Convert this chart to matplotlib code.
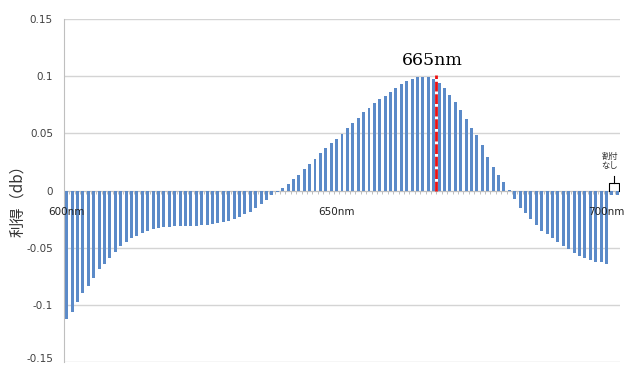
import matplotlib
matplotlib.use("Agg")
import matplotlib.pyplot as plt
import matplotlib.transforms as mtransforms

# gain per wavelength, 1 nm steps from 600 to 702 nm
wavelength = list(range(600, 703))
gain = [
    -0.113, -0.106, -0.098, -0.090, -0.084, -0.077, -0.069, -0.064, -0.059, -0.054,
    -0.049, -0.045, -0.042, -0.040, -0.0375, -0.0355, -0.034, -0.033, -0.032, -0.0317,
    -0.031, -0.031, -0.0308, -0.031, -0.0308, -0.0305, -0.030, -0.0296, -0.0287, -0.0279,
    -0.0264, -0.025, -0.023, -0.021, -0.0185, -0.0156, -0.012, -0.008, -0.004, -0.001,
    0.002, 0.0057, 0.0098, 0.014, 0.0186, 0.023, 0.0276, 0.033, 0.037, 0.042,
    0.0448, 0.0495, 0.055, 0.0594, 0.0638, 0.0685, 0.0725, 0.077, 0.080, 0.083,
    0.086, 0.090, 0.093, 0.0956, 0.0974, 0.0997, 0.0997, 0.0997, 0.098, 0.094,
    0.0895, 0.084, 0.078, 0.071, 0.063, 0.0545, 0.0486, 0.040, 0.0296, 0.021,
    0.0136, 0.0077, 0.0005, -0.0075, -0.015, -0.020, -0.025, -0.030, -0.0355, -0.038,
    -0.042, -0.045, -0.0486, -0.0515, -0.0544, -0.057, -0.059, -0.061, -0.0625, -0.063,
    -0.064, -0.004, -0.004,
]
x_labels = {600: "600nm", 650: "650nm", 700: "700nm"}
y_ticks = [-0.15, -0.1, -0.05, 0, 0.05, 0.1, 0.15]
y_ticklabels = ["-0.15", "-0.1", "-0.05", "0", "0.05", "0.1", "0.15"]
marker_x = 668.5
marker_text = "665nm"

fig = plt.figure(figsize=(6.25, 3.65), dpi=100)
ax = fig.add_axes([0.1024, 0.009, 0.8896, 0.938])

ax.bar(wavelength, gain, width=0.55, color="#5b8ac8", zorder=2)

ax.set_xlim(599.5, 702.5)
ax.set_ylim(-0.15, 0.15)
ax.set_yticks(y_ticks)
ax.set_yticklabels(y_ticklabels, fontsize=7.5, color="#404040")
ax.tick_params(axis="y", length=0, pad=8)
ax.set_xticks([])
# keep the bottom label inside the canvas
lowest = ax.get_yticklabels()[0]
lowest.set_transform(lowest.get_transform() +
                     mtransforms.ScaledTranslation(0, 3 / 72, fig.dpi_scale_trans))
for y in y_ticks:
    if y != 0:
        ax.axhline(y, color="#d4d4d4", lw=1, zorder=0)

for s in ["top", "right", "bottom"]:
    ax.spines[s].set_visible(False)
ax.spines["left"].set_color("#bfbfbf")

# category axis on zero with small ticks between bars
ax.axhline(0, color="#bfbfbf", lw=0.9, zorder=1)
ax.vlines([w - 0.5 for w in wavelength] + [702.5], -0.0028, 0,
          color="#bfbfbf", lw=0.7, zorder=1)
for w, lab in x_labels.items():
    ax.text(w, -0.019, lab, ha="center", va="center", fontsize=7.5,
            color="#222222", zorder=3)

# peak marker
ax.vlines(marker_x, 0, 0.1015, color="#ee1111", lw=2, linestyles=(0, (3.5, 1)),
          zorder=4)
ax.text(667.7, 0.114, marker_text, ha="center", va="center", fontsize=12.5,
        family="DejaVu Serif", color="black")

# unassigned range bracket
jp = ["Noto Sans CJK JP", "DejaVu Sans"]
ax.text(700.6, 0.026, "割付\nなし", ha="center", va="center",
        fontsize=6, family=jp, color="#333333", linespacing=1.1)
bx0, bx1, by = 700.5, 702.3, 0.0065
ax.plot([bx0, bx0, bx1, bx1], [0, by, by, 0], color="black", lw=0.8, zorder=4)
ax.plot([(bx0 + bx1) / 2] * 2, [by, by + 0.006], color="black", lw=0.8, zorder=4)

fig.text(0.029, 0.46, "利得（db）", rotation=90, ha="center", va="center",
         fontsize=11, family=jp, color="#333333")

fig.savefig("out.png", dpi=100)
